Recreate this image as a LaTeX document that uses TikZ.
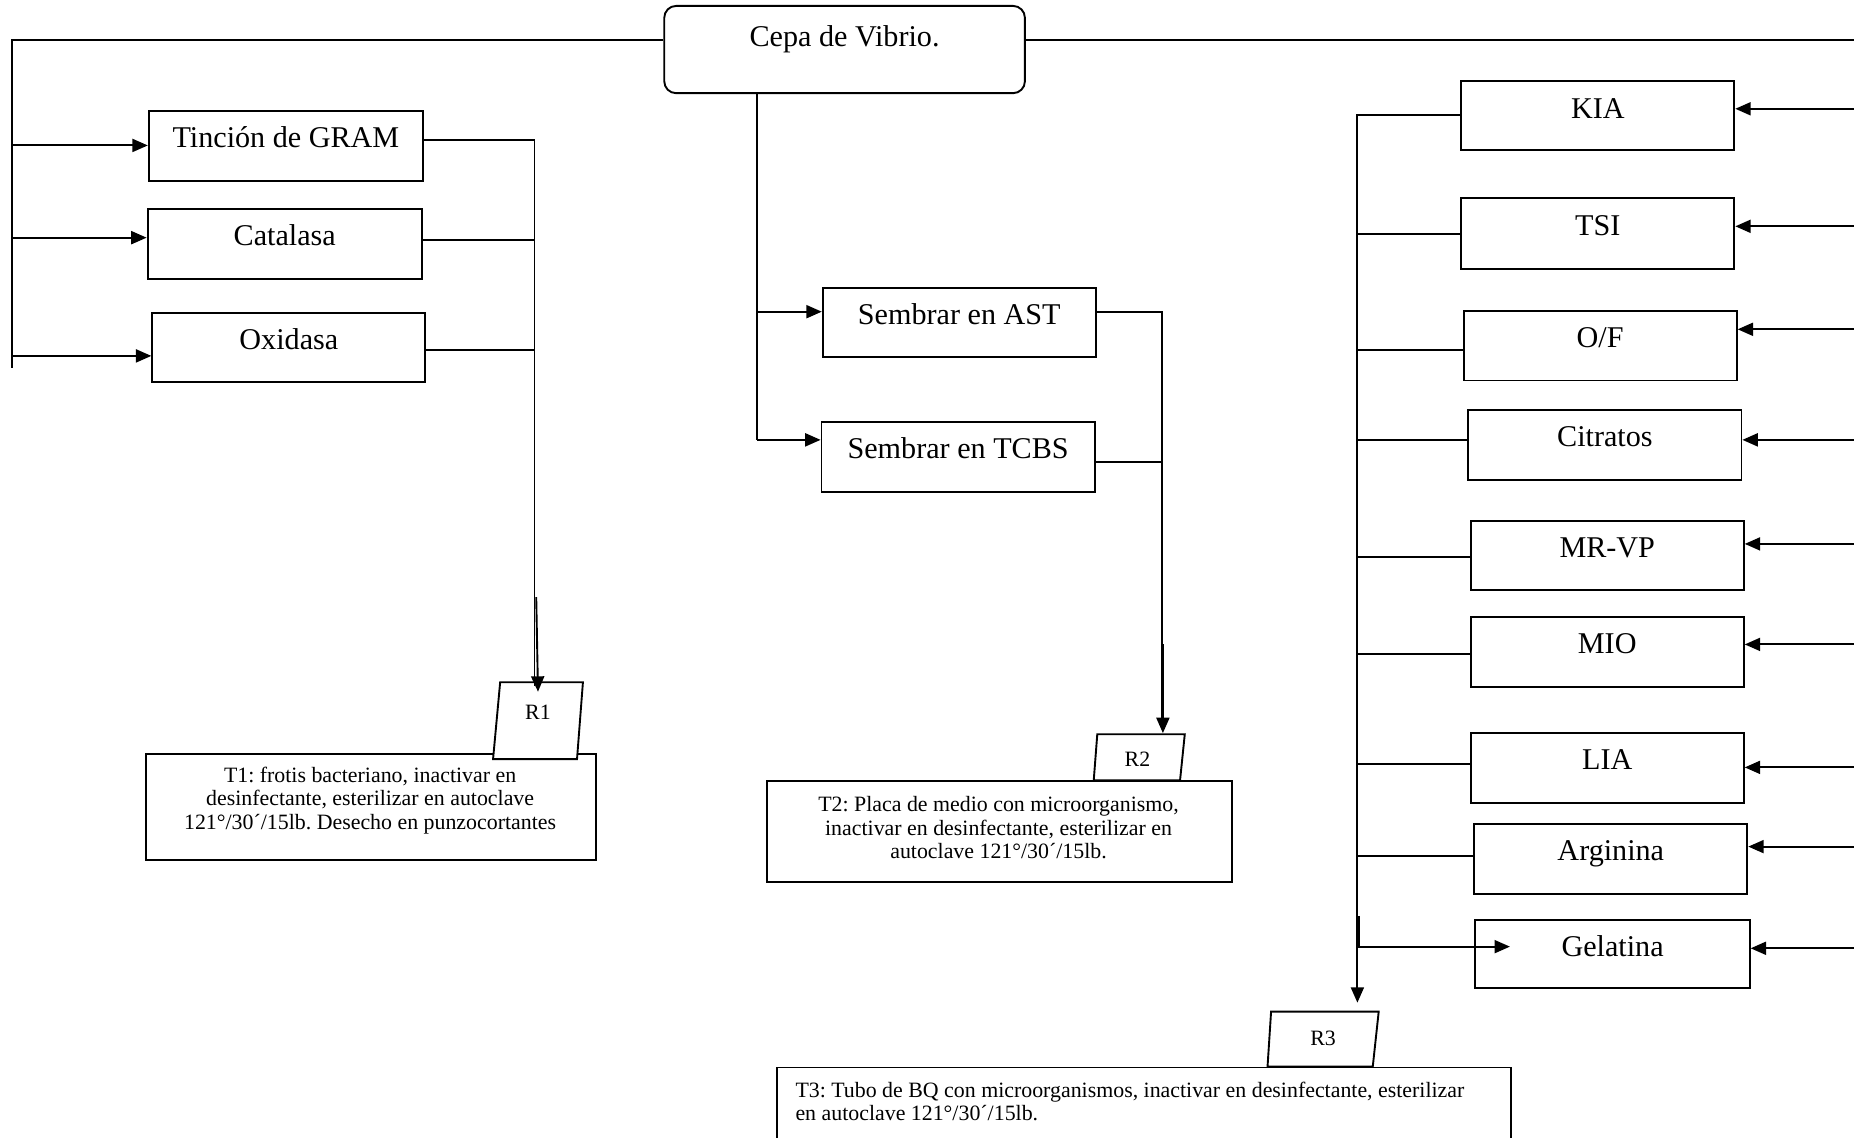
\documentclass[tikz,border=0pt]{standalone}
\usepackage{fontspec}
\setmainfont{Liberation Serif}
\usetikzlibrary{arrows.meta}
\frenchspacing
\begin{document}
\begin{tikzpicture}[x=1pt,y=-1pt,
  line width=1.6pt,
  arr/.style={-{Triangle[length=13pt,width=11pt]}},
  box/.style={draw, rectangle, inner sep=0pt, anchor=north west,
    text height=31pt, font=\fontsize{25.5}{30}\selectfont},
  notebox/.style={draw, rectangle, inner sep=0pt, anchor=north west},
  notetext/.style={inner sep=0pt, align=center, font=\fontsize{18.5}{20}\selectfont},
  tagbox/.style={draw, fill=white},
  tagtext/.style={inner sep=0pt, font=\fontsize{18.5}{20}\selectfont}
]
\useasboundingbox (0,0) rectangle (1568,962);

% ---- start node ----
\node[draw, rounded corners=10pt, inner sep=0pt, anchor=north west,
  minimum width=305pt, text height=34.6pt, text depth=39.2pt,
  font=\fontsize{25.5}{30}\selectfont] (cepa) at (561,4.2) {Cepa de Vibrio.};

% ---- left branch: staining and enzyme tests ----
\node[box, minimum width=232pt, text depth=28pt] (tin) at (125,93) {Tinción de GRAM};
\node[box, minimum width=232pt, text depth=28pt] (cat) at (124,176) {Catalasa};
\node[box, minimum width=231pt, text depth=27pt] (oxi) at (128,264) {Oxidasa};

% ---- centre branch: plating ----
\node[box, minimum width=231pt, text depth=27pt] (ast) at (695,243) {Sembrar en AST};
\node[box, minimum width=231pt, text depth=28pt] (tcbs) at (694,356) {Sembrar en TCBS};

% ---- right branch: biochemical tubes ----
\node[box, minimum width=231pt, text depth=27pt] (kia) at (1235,68) {KIA};
\node[box, minimum width=231pt, text depth=29pt] (tsi) at (1235,167) {TSI};
\node[box, minimum width=231pt, text depth=28pt] (of) at (1237,262) {O/F};
\node[box, minimum width=231pt, text depth=28pt] (cit) at (1241,346) {Citratos};
\node[box, minimum width=231pt, text depth=27pt] (mrvp) at (1243,440) {MR-VP};
\node[box, minimum width=231pt, text depth=28pt] (mio) at (1243,521) {MIO};
\node[box, minimum width=231pt, text depth=28pt] (lia) at (1243,619) {LIA};
\node[box, minimum width=231pt, text depth=28pt] (arg) at (1246,696) {Arginina};
\node[box, minimum width=232pt, text depth=27pt] (gel) at (1247,777) {Gelatina};

% ---- waste treatment boxes ----
\node[notebox, minimum width=380pt, minimum height=89.5pt] (t1) at (123,637) {};
\node[notetext, font=\fontsize{18.5}{20}\selectfont] (t1txt) at (313,677)
  {T1: frotis bacteriano, inactivar en\\desinfectante, esterilizar en autoclave\\121°/30´/15lb. Desecho en punzocortantes};
\node[notebox, minimum width=393pt, minimum height=85pt] (t2) at (648,660) {};
\node[notetext, font=\fontsize{18.5}{20}\selectfont] (t2txt) at (844.5,700)
  {T2: Placa de medio con microorganismo,\\inactivar en desinfectante, esterilizar en\\autoclave 121°/30´/15lb.};
\node[notebox, minimum width=621pt, minimum height=80pt] (t3) at (656,902) {};
\node[notetext, align=left, anchor=west, font=\fontsize{18.5}{20}\selectfont] (t3txt) at (672,931.5)
  {T3: Tubo de BQ con microorganismos, inactivar en desinfectante, esterilizar\\en autoclave 121°/30´/15lb.};

% ---- residue tags ----
\draw[tagbox] (423,577) -- (493,577) -- (488,642) -- (417,642) -- cycle;
\node[tagtext] (r1) at (455,602) {R1};
\draw[tagbox] (928,621) -- (1002,621) -- (998,660) -- (925,660) -- cycle;
\node[tagtext] (r2) at (962,642) {R2};
\draw[tagbox] (1075,855.6) -- (1166,855.6) -- (1161,902) -- (1072,902) -- cycle;
\node[tagtext] (r3) at (1119,878) {R3};

% ---- main distribution line ----
\coordinate (tl) at (10,33.5);
\coordinate (lb) at (10,311);
\coordinate (tr) at (1568,33.5);
\draw (tl -| cepa.west) -- (tl) -- (lb);
\draw (tl -| cepa.east) -- (tr);

% left branch arrows
\draw[arr] (tl |- 0,123) -- (tin.west |- 0,123);
\draw[arr] (tl |- 0,201) -- (cat.west |- 0,201);
\draw[arr] (tl |- 0,301) -- (oxi.west |- 0,301);

% left branch collector to R1
\coordinate (c1) at (452,118.7);
\draw (tin.east |- c1) -- (c1) -- (452,580);
\draw (cat.east |- 0,203) -- (452,203);
\draw (oxi.east |- 0,296) -- (452,296);
\draw[arr] (453.5,505) -- (r1.north |- 0,585);

% centre branch
\coordinate (c2) at (640,372);
\draw (cepa.south -| c2) -- (c2);
\draw[arr] (c2 |- 0,263.6) -- (ast.west |- 0,263.6);
\draw[arr] (c2) -- (tcbs.west |- c2);
\coordinate (c3) at (983,263.6);
\draw (ast.east |- c3) -- (c3) -- (983,612);
\draw (tcbs.east |- 0,391) -- (983,391);
\draw[arr] (983.5,545) -- (983.5,620);

% right branch collector to R3
\coordinate (c4) at (1148,97);
\draw[arr] (kia.west |- c4) -- (c4) -- (1148,848);
\draw (tsi.west |- 0,198) -- (1148,198);
\draw (of.west |- 0,295.7) -- (1148,295.7);
\draw (cit.west |- 0,372) -- (1148,372);
\draw (mrvp.west |- 0,471) -- (1148,471);
\draw (mio.west |- 0,553) -- (1148,553);
\draw (lia.west |- 0,646) -- (1148,646);
\draw (arg.west |- 0,724) -- (1148,724);
\draw[line width=2.2pt] (1149,775) -- (1149,801);
\coordinate (g1) at (1277,800.6);
\draw[arr] (c4 |- g1) -- (g1);

% right side inputs
\draw[arr] (tr |- 0,92) -- (kia.east |- 0,92);
\draw[arr] (tr |- 0,191.4) -- (tsi.east |- 0,191.4);
\draw[arr] (tr |- 0,278.5) -- (of.east |- 0,278.5);
\draw[arr] (tr |- 0,372) -- (cit.east |- 0,372);
\draw[arr] (tr |- 0,460) -- (mrvp.east |- 0,460);
\draw[arr] (tr |- 0,545) -- (mio.east |- 0,545);
\draw[arr] (tr |- 0,649) -- (lia.east |- 0,649);
\draw[arr] (tr |- 0,716) -- (arg.east |- 0,716);
\draw[arr] (tr |- 0,802) -- (gel.east |- 0,802);
\end{tikzpicture}
\end{document}
